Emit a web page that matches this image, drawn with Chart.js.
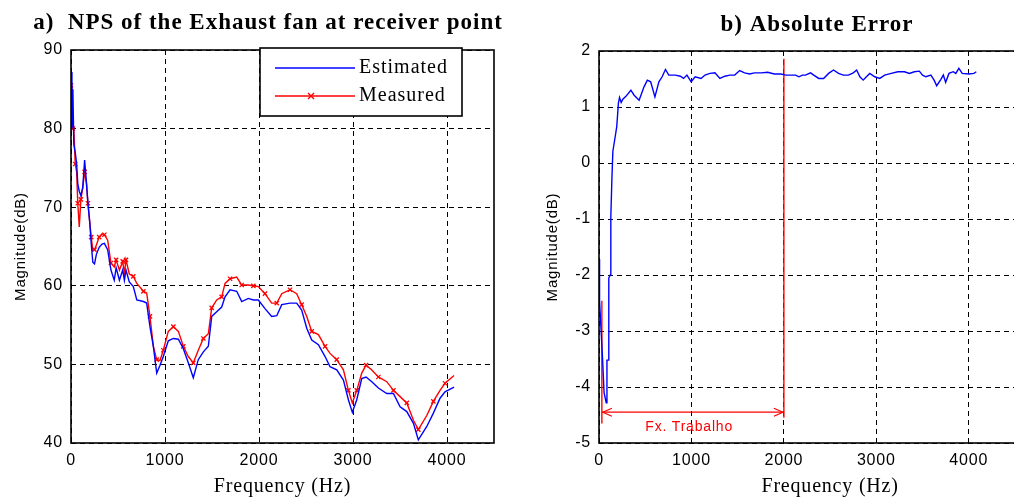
<!DOCTYPE html>
<html>
<head>
<meta charset="utf-8">
<script src="https://cdn.jsdelivr.net/npm/chart.js@4.4.1/dist/chart.umd.min.js"></script>
<style>
  body { margin: 0; background: #fff; overflow: hidden; width: 1014px; height: 501px; position: relative; }
  canvas { position: absolute; top: 0; }
  #nps { left: 0; }
  #err { left: 507px; }
</style>
</head>
<body>
<canvas id="nps" width="507" height="501"></canvas>
<canvas id="err" width="580" height="501"></canvas>
<script>
'use strict'

/* ------------------------------ Data ------------------------------ */

// a) NPS spectrum, frequency in Hz
const npsFreq = [0, 10, 20, 30, 45, 60, 72, 88, 105, 125, 145, 165, 180, 200, 215, 232, 250, 270, 300, 330,
  355, 390, 425, 460, 480, 515, 550, 568, 585, 620, 663, 700, 770, 805, 840, 876, 912, 947, 982, 1035,
  1089, 1142, 1195, 1248, 1301, 1354, 1408, 1461, 1497, 1550, 1603, 1639, 1692, 1763, 1816, 1887, 1940, 1993, 2064, 2135,
  2189, 2242, 2330, 2401, 2454, 2508, 2561, 2632, 2703, 2756, 2827, 2898, 2951, 2993, 3040, 3093, 3139, 3200, 3270, 3359,
  3430, 3501, 3572, 3643, 3695, 3785, 3855, 3926, 3979, 4075]
const estimatedDb = [87.2, 80, 85, 78, 77, 75.5, 73, 72, 71.5, 72.5, 76, 73, 70.5, 68, 65.4, 63, 62.8, 64, 64.9, 65.3,
  65.4, 64.6, 62, 60.7, 62.3, 60.7, 62, 60.7, 62, 60.5, 59.9, 58.2, 58, 57.8, 54.8, 52.3, 48.9, 49.9, 51, 53,
  53.3, 53.2, 52, 50.2, 48.3, 50.6, 51.6, 52.3, 56.1, 56.7, 57.3, 58.6, 59.5, 59.3, 58, 58.4, 58.2, 58.2, 57.1, 56.1,
  56.2, 57.6, 57.8, 57.8, 56.9, 54.6, 53.1, 52.5, 51, 49.7, 49.3, 48, 45.5, 43.9, 45.5, 48.2, 48.4, 47.8, 47, 46.3,
  46.3, 44.6, 44, 42.5, 40.4, 42.1, 43.8, 45.7, 46.5, 47.1]
const measuredDb = [85.5, 83, 80, 80, 75.5, 74.5, 70.5, 67.5, 71, 72.5, 74.5, 73, 70.5, 68, 66.2, 64.5, 64.6, 65.2, 66.2, 66.6,
  66.5, 65.8, 62.9, 62.4, 63.3, 62, 63.1, 61.6, 63.3, 61.5, 61.2, 60.3, 59.3, 59.1, 56.1, 52.3, 50.6, 50.5, 51.8, 54.2,
  54.8, 54.2, 52.3, 51, 50.2, 51.8, 53.3, 53.9, 57.2, 58.2, 58.6, 60.3, 60.9, 61.1, 60.1, 60.1, 60, 59.9, 59, 57.8,
  57.8, 59, 59.5, 59, 57.6, 56.1, 54.2, 53.8, 52.3, 51.4, 50.6, 49.3, 46.7, 45.1, 46.7, 48.9, 49.9, 49.3, 48.4, 47.8,
  46.7, 45.9, 45.1, 42.9, 41.7, 43.5, 45.3, 46.7, 47.6, 48.6]

// b) absolute error
const errFreq = [0, 6, 40, 55, 78, 86, 100, 106, 122, 128, 140, 150, 178, 192, 210, 222, 240, 258, 291, 345,
  380, 434, 487, 523, 559, 605, 648, 683, 719, 755, 826, 880, 915, 951, 997, 1040, 1104, 1147, 1201, 1254,
  1308, 1361, 1415, 1468, 1522, 1575, 1629, 1682, 1754, 1825, 1896, 1968, 2021, 2127, 2163, 2200, 2234, 2288, 2323, 2377,
  2430, 2484, 2537, 2591, 2644, 2698, 2751, 2787, 2822, 2858, 2893, 2929, 2983, 3037, 3090, 3161, 3233, 3304, 3358, 3411,
  3465, 3500, 3536, 3590, 3625, 3653, 3697, 3725, 3750, 3786, 3832, 3860, 3893, 3929, 4001, 4055, 4082]
const errDb = [-1.72, -2.46, -3.55, -4.1, -4.28, -3.52, -3.52, -2.05, -2.0, -0.95, -0.26, 0.21, 0.5, 0.65, 1.07, 1.17, 1.08, 1.14, 1.19, 1.3,
  1.21, 1.12, 1.36, 1.48, 1.45, 1.18, 1.45, 1.54, 1.67, 1.57, 1.57, 1.55, 1.51, 1.57, 1.45, 1.54, 1.51, 1.57, 1.6, 1.61,
  1.51, 1.55, 1.57, 1.57, 1.65, 1.61, 1.59, 1.61, 1.61, 1.62, 1.59, 1.59, 1.57, 1.57, 1.54, 1.57, 1.57, 1.61, 1.57, 1.51,
  1.51, 1.6, 1.66, 1.6, 1.57, 1.57, 1.61, 1.66, 1.54, 1.48, 1.54, 1.6, 1.54, 1.51, 1.57, 1.6, 1.63, 1.63, 1.6, 1.63,
  1.64, 1.57, 1.54, 1.57, 1.48, 1.38, 1.49, 1.57, 1.44, 1.6, 1.63, 1.6, 1.69, 1.6, 1.59, 1.6, 1.63]

// working band ("Fx. Trabalho") markers
const bandStart = 31
const bandEnd = 2000
const bandArrowDb = -4.45
const bandEndLine = [1.86, -4.55]
const bandStartLine = [-2.46, -4.65]

const npsTicks = [40, 50, 60, 70, 80, 90]
const errTicks = [-5, -4, -3, -2, -1, 0, 1, 2]

/* ------------------------------ Helpers ------------------------------ */

Chart.defaults.font.family = '"Liberation Sans", Arial, sans-serif'
Chart.defaults.color = '#000'

const toPoints = (xs, ys) => xs.map((x, i) => ({ x: x, y: ys[i] }))

// black box round the plot, like the matlab axes
const frameBox = {
  id: 'frameBox',
  afterDatasetsDraw (chart) {
    const { ctx, chartArea: a } = chart
    ctx.save()
    ctx.strokeStyle = '#000'
    ctx.lineWidth = 1.6
    ctx.strokeRect(a.left, a.top, a.right - a.left, a.bottom - a.top)
    ctx.restore()
  }
}

function panelTitle (text, x, y) {
  return {
    id: 'panelTitle',
    afterDraw (chart) {
      const ctx = chart.ctx
      ctx.save()
      ctx.font = 'bold 23px "Liberation Serif", serif'
      ctx.letterSpacing = '1px'
      ctx.fillStyle = '#000'
      ctx.textAlign = 'center'
      ctx.textBaseline = 'middle'
      ctx.fillText(text, x, y)
      ctx.restore()
    }
  }
}

const npsLegend = {
  id: 'npsLegend',
  afterDraw (chart) {
    const ctx = chart.ctx
    ctx.save()
    ctx.fillStyle = '#fff'
    ctx.fillRect(260, 48, 202, 68)
    ctx.strokeStyle = '#000'
    ctx.lineWidth = 1.6
    ctx.strokeRect(260, 48, 202, 68)

    ctx.lineWidth = 1.4
    ctx.strokeStyle = '#0000ff'
    ctx.beginPath(); ctx.moveTo(275, 68); ctx.lineTo(355, 68); ctx.stroke()
    ctx.strokeStyle = '#ff0000'
    ctx.beginPath(); ctx.moveTo(275, 96); ctx.lineTo(355, 96); ctx.stroke()
    ctx.beginPath()
    ctx.moveTo(308, 93); ctx.lineTo(314, 99)
    ctx.moveTo(314, 93); ctx.lineTo(308, 99)
    ctx.stroke()

    ctx.font = '20px "Liberation Serif", serif'
    ctx.letterSpacing = '1px'
    ctx.fillStyle = '#000'
    ctx.textBaseline = 'middle'
    ctx.fillText('Estimated', 359, 68)
    ctx.fillText('Measured', 359, 96)
    ctx.restore()
  }
}

const bandArrows = {
  id: 'bandArrows',
  afterDatasetsDraw (chart) {
    const { ctx, scales: { x, y } } = chart
    const x0 = x.getPixelForValue(bandStart)
    const x1 = x.getPixelForValue(bandEnd)
    const ya = y.getPixelForValue(bandArrowDb)
    ctx.save()
    ctx.strokeStyle = '#ff0000'
    ctx.lineWidth = 1.2
    ctx.beginPath()
    ctx.moveTo(x0 + 10, ya - 4); ctx.lineTo(x0 + 1, ya); ctx.lineTo(x0 + 10, ya + 4)
    ctx.moveTo(x1 - 10, ya - 4); ctx.lineTo(x1 - 1, ya); ctx.lineTo(x1 - 10, ya + 4)
    ctx.stroke()
    ctx.font = '14px "Liberation Sans", sans-serif'
    ctx.fillStyle = '#ff0000'
    ctx.textAlign = 'center'
    ctx.textBaseline = 'middle'
    ctx.fillText('Fx. Trabalho', x.getPixelForValue(975), y.getPixelForValue(-4.72))
    ctx.restore()
  }
}

// x title gets a little tracking, canvas-wide letterSpacing is reset after the scale draws
const trackedTitles = {
  id: 'trackedTitles',
  beforeDraw (chart) { chart.ctx.letterSpacing = '0.8px' },
  afterDraw (chart) { chart.ctx.letterSpacing = '0px' }
}

function axisOptions (opts) {
  return {
    x: {
      type: 'linear',
      min: 0,
      max: opts.xMax,
      afterBuildTicks: s => { s.ticks = [0, 1000, 2000, 3000, 4000, 5000].filter(v => v <= opts.xMax).map(v => ({ value: v })) },
      afterFit: s => { s.height = 58 },
      grid: { color: '#000', lineWidth: 1, drawTicks: false },
      border: { display: false, dash: [5, 4] },
      ticks: { padding: 8, font: { size: 16 }, maxRotation: 0, callback: v => String(v) },
      title: {
        display: true,
        text: 'Frequency (Hz)',
        font: { family: '"Liberation Serif", serif', size: 20 },
        padding: { top: 0, bottom: 2 }
      }
    },
    y: {
      min: opts.yTicks[0],
      max: opts.yTicks[opts.yTicks.length - 1],
      afterBuildTicks: s => { s.ticks = opts.yTicks.map(v => ({ value: v })) },
      afterFit: s => { s.width = opts.yWidth },
      grid: { color: '#000', lineWidth: 1, drawTicks: false },
      border: { display: false, dash: [5, 4] },
      ticks: { padding: 8, font: { size: 16 } },
      title: {
        display: true,
        text: 'Magnitude(dB)',
        font: { size: 15 },
        padding: { top: opts.yTitlePad, bottom: 0 }
      }
    }
  }
}

/* ------------------------------ a) NPS ------------------------------ */

new Chart(document.getElementById('nps'), {
  type: 'line',
  data: {
    datasets: [{
      label: 'Estimated',
      data: toPoints(npsFreq, estimatedDb),
      borderColor: '#0000ff',
      borderWidth: 1.4,
      pointRadius: 0
    }, {
      label: 'Measured',
      data: toPoints(npsFreq, measuredDb),
      borderColor: '#ff0000',
      borderWidth: 1.4,
      pointStyle: 'crossRot',
      pointRadius: c => (c.dataIndex % 2 === 0 ? 3 : 0),
      pointBorderColor: '#ff0000',
      pointBorderWidth: 1.3
    }]
  },
  options: {
    responsive: false,
    animation: false,
    layout: { padding: { top: 50, right: 13, left: 0, bottom: 0 } },
    plugins: { legend: { display: false }, tooltip: { enabled: false } },
    scales: axisOptions({ xMax: 4500, yTicks: npsTicks, yWidth: 71, yTitlePad: 12 })
  },
  plugins: [trackedTitles, frameBox, npsLegend, panelTitle('a)  NPS of the Exhaust fan at receiver point', 268, 23)]
})

/* ------------------------------ b) Absolute error ------------------------------ */

new Chart(document.getElementById('err'), {
  type: 'line',
  data: {
    datasets: [{
      data: toPoints(errFreq, errDb),
      borderColor: '#0000ff',
      borderWidth: 1.4,
      pointRadius: 0
    }, {
      data: [{ x: bandEnd, y: bandEndLine[0] }, { x: bandEnd, y: bandEndLine[1] }],
      borderColor: '#ff0000',
      borderWidth: 1.4,
      pointRadius: 0
    }, {
      data: [{ x: bandStart, y: bandStartLine[0] }, { x: bandStart, y: bandStartLine[1] }],
      borderColor: '#ff0000',
      borderWidth: 1.4,
      pointRadius: 0
    }, {
      data: [{ x: bandStart, y: bandArrowDb }, { x: bandEnd, y: bandArrowDb }],
      borderColor: '#ff0000',
      borderWidth: 1.2,
      pointRadius: 0
    }]
  },
  options: {
    responsive: false,
    animation: false,
    layout: { padding: { top: 51, right: 20, left: 0, bottom: 0 } },
    plugins: { legend: { display: false }, tooltip: { enabled: false } },
    scales: axisOptions({ xMax: 5000, yTicks: errTicks, yWidth: 92, yTitlePad: 37 })
  },
  plugins: [trackedTitles, frameBox, bandArrows, panelTitle('b) Absolute Error', 310, 25)]
})
</script>
</body>
</html>
